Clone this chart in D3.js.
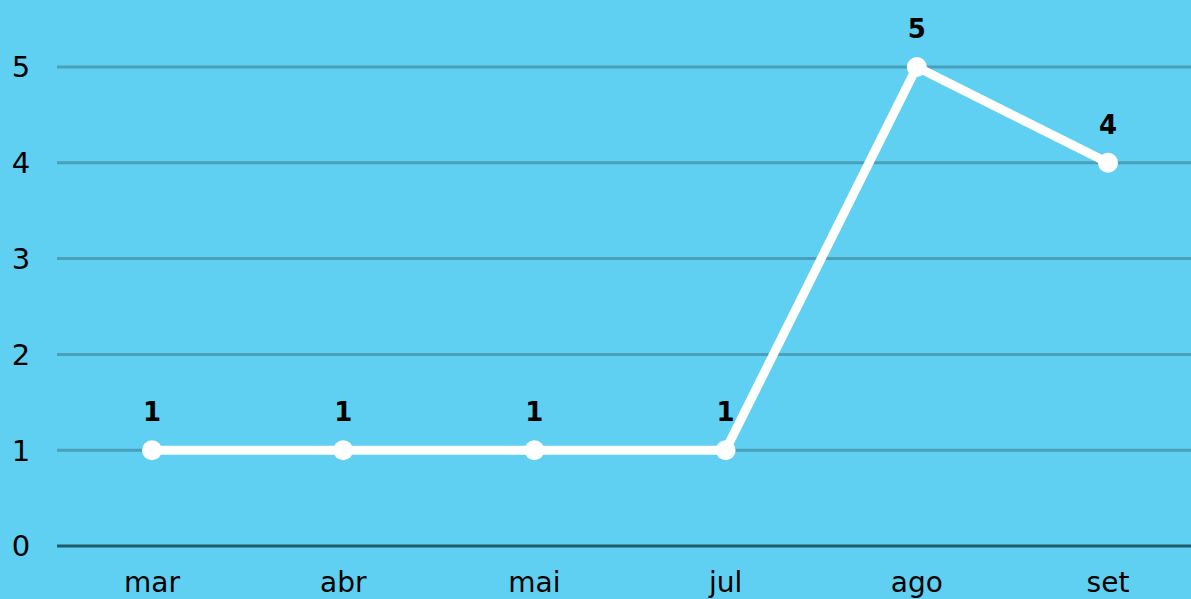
<!DOCTYPE html>
<html lang="pt">
<head>
<meta charset="UTF-8">
<title>Linha</title>
<script src="https://cdn.jsdelivr.net/npm/d3@7"></script>
<style>
  body { margin: 0; background: #5fd0f1; }
  svg { display: block; font-family: "DejaVu Sans", "Noto Sans", sans-serif; }
</style>
</head>
<body>
<svg id="chart" width="1191" height="599"></svg>
<script>
const months = ["mar", "abr", "mai", "jul", "ago", "set"];
const values = [1, 1, 1, 1, 5, 4];
const yTicks = [0, 1, 2, 3, 4, 5];

const svg = d3.select("#chart");
const W = 1191, H = 599;
const margin = { left: 57, right: 0, top: 0, bottom: 53 };

svg.append("rect").attr("width", W).attr("height", H).attr("fill", "#5fd0f1");

// category positions
const x = d3.scalePoint().domain(months).range([152, 1108]);
const y = d3.scaleLinear().domain([0, 5]).range([546, 67]);

// gridlines
svg.append("g")
    .selectAll("line")
    .data(yTicks)
    .join("line")
    .attr("x1", margin.left)
    .attr("x2", W)
    .attr("y1", d => y(d))
    .attr("y2", d => y(d))
    .attr("stroke", d => d === 0 ? "#22596b" : "#4a9fba")
    .attr("stroke-width", 3);

// y tick labels
svg.append("g")
    .selectAll("text")
    .data(yTicks)
    .join("text")
    .attr("x", 21)
    .attr("y", d => y(d))
    .attr("dy", "0.36em")
    .attr("text-anchor", "middle")
    .attr("font-size", 29)
    .attr("fill", "#000")
    .text(d => d);

// x labels
svg.append("g")
    .selectAll("text")
    .data(months)
    .join("text")
    .attr("x", d => x(d))
    .attr("y", 592)
    .attr("text-anchor", "middle")
    .attr("font-size", 28)
    .attr("fill", "#000")
    .text(d => d);

const pts = months.map((m, i) => ({ m, v: values[i] }));

svg.append("path")
    .datum(pts)
    .attr("fill", "none")
    .attr("stroke", "#fff")
    .attr("stroke-width", 9)
    .attr("stroke-linejoin", "round")
    .attr("d", d3.line().x(d => x(d.m)).y(d => y(d.v)));

svg.append("g")
    .selectAll("circle")
    .data(pts)
    .join("circle")
    .attr("cx", d => x(d.m))
    .attr("cy", d => y(d.v))
    .attr("r", 10)
    .attr("fill", "#fff");

// value labels
svg.append("g")
    .selectAll("text")
    .data(pts)
    .join("text")
    .attr("x", d => x(d.m))
    .attr("y", d => y(d.v) - 29)
    .attr("text-anchor", "middle")
    .attr("font-size", 26)
    .attr("font-weight", "bold")
    .attr("fill", "#000")
    .text(d => d.v);
</script>
</body>
</html>
